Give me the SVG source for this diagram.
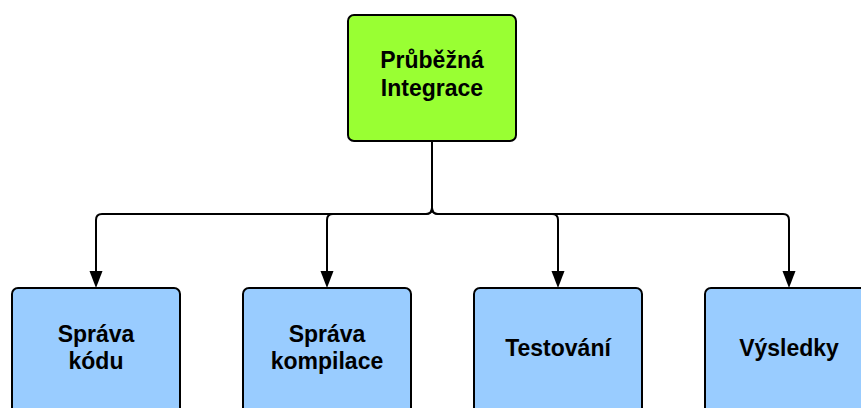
<svg xmlns="http://www.w3.org/2000/svg" width="861" height="408" viewBox="0 0 861 408">
<style>
.box{stroke:#000;stroke-width:2}
.top{fill:#99FF33}
.leaf{fill:#99CCFF}
.lbl{font-family:"Liberation Sans",Arial,sans-serif;font-weight:bold;font-size:23px;fill:#000;text-anchor:middle}
.con{fill:none;stroke:#000;stroke-width:2}
.head{fill:#000}
</style>
<g id="connectors">
<path class="con" d="M432 141 V208 Q432 214 426 214 H102 Q96 214 96 220 V272"/>
<path class="con" d="M432 141 V208 Q432 214 426 214 H333 Q327 214 327 220 V272"/>
<path class="con" d="M432 141 V208 Q432 214 438 214 H552 Q558 214 558 220 V272"/>
<path class="con" d="M432 141 V208 Q432 214 438 214 H783 Q789 214 789 220 V272"/>
<path class="head" d="M89.5 271 L102.5 271 L96 288 Z"/>
<path class="head" d="M320.5 271 L333.5 271 L327 288 Z"/>
<path class="head" d="M551.5 271 L564.5 271 L558 288 Z"/>
<path class="head" d="M782.5 271 L795.5 271 L789 288 Z"/>
</g>
<g id="node-ci">
<rect class="box top" x="348" y="15" width="168" height="126" rx="6"/>
<text class="lbl" x="432" y="68">Průběžná</text>
<text class="lbl" x="432" y="96">Integrace</text>
</g>
<g id="node-sprava-kodu">
<rect class="box leaf" x="12" y="288" width="168" height="126" rx="6"/>
<text class="lbl" x="96" y="342">Správa</text>
<text class="lbl" x="96" y="369">kódu</text>
</g>
<g id="node-sprava-kompilace">
<rect class="box leaf" x="243" y="288" width="168" height="126" rx="6"/>
<text class="lbl" x="327" y="342">Správa</text>
<text class="lbl" x="327" y="369">kompilace</text>
</g>
<g id="node-testovani">
<rect class="box leaf" x="474" y="288" width="168" height="126" rx="6"/>
<text class="lbl" x="558" y="356">Testování</text>
</g>
<g id="node-vysledky">
<rect class="box leaf" x="705" y="288" width="168" height="126" rx="6"/>
<text class="lbl" x="789" y="356">Výsledky</text>
</g>
</svg>
